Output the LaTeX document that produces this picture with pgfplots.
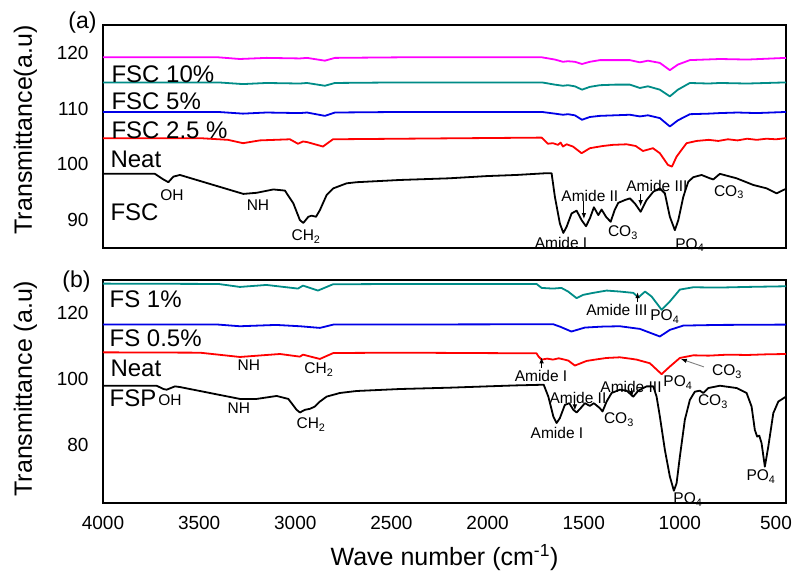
\documentclass[border=0pt]{standalone}
\usepackage{fontspec}
\setmainfont{Liberation Sans}
\usepackage{pgfplots}
\pgfplotsset{compat=1.18}
\usetikzlibrary{arrows.meta}
\definecolor{cmag}{RGB}{255,0,255}
\definecolor{cteal}{RGB}{0,140,135}
\definecolor{cblue}{RGB}{0,0,230}
\definecolor{cred}{RGB}{255,0,0}
\newcommand{\lab}{\fontsize{24}{24}\selectfont}
\newcommand{\sml}{\fontsize{15.5}{15.5}\selectfont}
\tikzset{arr/.style={line width=0.9pt, -{Latex[length=6pt,width=4.5pt]}}}
\begin{document}
\begin{tikzpicture}[x=1pt,y=1pt]
\pgfplotsset{
 common/.style={
  scale only axis, width=683pt, height=223pt,
  x dir=reverse, xmin=448, xmax=4000,
  axis line style={line width=1.9pt},
  major tick length=0pt,
  tick label style={font=\fontsize{19}{19}\selectfont},
  /pgf/number format/assume math mode=true,
  /pgf/number format/1000 sep={},
  yticklabel style={xshift=-11pt},
  xticklabel style={yshift=-10pt},
  xtick={500,1000,...,4000},
  clip=false,
  every axis plot/.append style={line width=1.8pt, mark=none, line join=round},
  every axis y label/.style={rotate=90, anchor=center, font=\fontsize{25}{25}\selectfont},
  every axis x label/.style={anchor=base, font=\fontsize{25}{25}\selectfont},
 },
}
% ---------------- panel (a)
\begin{axis}[common, at={(103pt,329pt)}, anchor=south west,
  ymin=85, ymax=125, ytick={90,100,110,120}, xticklabels={},
  ylabel={Transmittance(a.u)},
  ylabel style={at={(axis description cs:-0.1135,0.529)}}]
\addplot[black] coordinates {
(4000,98.3)(3730,98.3)(3686,97.3)(3660,96.8)(3634,97.8)(3600,98.1)(3270,94.7)(3201,94.9)(3114,95.5)(3054,95.3)(3010,93.0)(2976,90.0)(2958,89.5)(2932,90.6)(2915,90.8)(2892,90.6)(2872,91.8)(2837,94.5)(2802,95.7)(2733,96.6)(2681,96.8)(2456,97.2)(2200,97.5)(2003,97.9)(1850,98.1)(1702,98.4)(1667,98.4)(1650,94.2)(1624,89.4)(1606,87.7)(1589,88.8)(1563,91.2)(1537,91.7)(1511,90.0)(1488,88.9)(1468,90.3)(1447,92.3)(1424,90.9)(1407,91.9)(1384,90.6)(1360,89.7)(1338,91.9)(1320,93.1)(1286,93.6)(1260,93.9)(1234,93.0)(1204,91.5)(1173,93.6)(1138,95.1)(1104,95.7)(1078,94.8)(1052,90.6)(1026,88.2)(1008,90.0)(982,94.2)(956,96.9)(930,97.7)(887,98.1)(844,97.5)(826,97.3)(792,98.3)(705,97.5)(618,96.3)(549,95.7)(497,94.8)(462,95.4)(448,95.6)};
\addplot[cred] coordinates {
(4000,104.7)(3496,104.7)(3350,104.4)(3272,103.8)(3184,104.3)(3028,104.5)(2986,103.7)(2960,104.1)(2939,104.0)(2856,103.2)(2804,104.5)(2456,104.6)(1719,104.8)(1686,103.7)(1660,103.8)(1634,103.5)(1620,103.9)(1608,103.2)(1589,103.6)(1556,103.2)(1511,102.0)(1468,102.9)(1400,103.3)(1348,103.5)(1277,103.6)(1230,103.3)(1192,102.4)(1140,102.9)(1104,102.0)(1062,99.9)(1041,99.6)(1017,101.4)(965,103.8)(913,104.2)(850,104.4)(800,104.2)(750,104.5)(700,104.3)(650,104.6)(600,104.4)(550,104.6)(500,104.5)(448,104.7)};
\addplot[cblue] coordinates {
(4000,109.4)(3400,109.4)(3272,109.1)(3150,109.3)(2976,109.2)(2939,109.3)(2846,108.7)(2794,109.3)(2456,109.4)(1717,109.4)(1650,109.1)(1608,108.9)(1582,109.0)(1546,108.8)(1509,108.0)(1468,108.5)(1416,108.7)(1338,108.8)(1260,108.9)(1208,108.6)(1166,108.8)(1104,108.3)(1052,106.8)(1010,107.9)(948,109.0)(850,109.1)(792,109.2)(700,109.3)(600,109.2)(448,109.4)};
\addplot[cteal] coordinates {
(4000,114.7)(3400,114.7)(3272,114.4)(3150,114.6)(2976,114.5)(2939,114.6)(2846,114.1)(2794,114.6)(2456,114.7)(1717,114.7)(1650,114.3)(1608,114.1)(1582,114.2)(1546,114.0)(1509,113.4)(1468,113.9)(1416,114.2)(1338,114.3)(1260,114.3)(1208,113.7)(1166,114.0)(1104,113.4)(1052,112.2)(1010,113.4)(948,114.6)(850,114.5)(792,114.6)(650,114.5)(448,114.7)};
\addplot[cmag] coordinates {
(4000,119.2)(3400,119.2)(3288,118.9)(3150,119.1)(2976,119.0)(2939,119.1)(2846,118.6)(2794,119.1)(2456,119.2)(1717,119.2)(1650,118.8)(1608,118.4)(1582,118.5)(1546,118.4)(1509,118.0)(1468,118.4)(1416,118.7)(1338,118.7)(1260,118.7)(1208,118.3)(1166,118.6)(1104,118.2)(1052,116.9)(1010,117.9)(948,118.7)(792,118.9)(650,118.8)(448,119.1)};
\node[anchor=center,font=\fontsize{23}{23}\selectfont] at (axis cs:4107,125.4) {(a)};
\node[anchor=base west,font=\lab] at (axis cs:3974,114.6) {FSC 10\%};
\node[anchor=base west,font=\lab] at (axis cs:3974,109.8) {FSC 5\%};
\node[anchor=base west,font=\lab] at (axis cs:3974,104.7) {FSC 2.5 \%};
\node[anchor=base west,font=\lab] at (axis cs:3979,99.4) {Neat};
\node[anchor=base west,font=\lab] at (axis cs:3979,90.0) {FSC};
\node[font=\sml] at (axis cs:3641,94.5) {OH};
\node[font=\sml] at (axis cs:3194,92.7) {NH};
\node[font=\sml] at (axis cs:2944,87.1) {CH\textsubscript{2}};
\node[font=\sml] at (axis cs:1618,85.9) {Amide I};
\node[font=\sml] at (axis cs:1468,94.3) {Amide II};
\draw[arr] (axis cs:1499,93.4) -- (axis cs:1499,90.2);
\node[font=\sml] at (axis cs:1296,87.7) {CO\textsubscript{3}};
\node[font=\sml] at (axis cs:1119,96.1) {Amide III};
\draw[arr] (axis cs:1204,94.7) -- (axis cs:1204,92.5);
\node[font=\sml] at (axis cs:948,85.5) {PO\textsubscript{4}};
\node[font=\sml] at (axis cs:745,95.0) {CO\textsubscript{3}};
\end{axis}
% ---------------- panel (b)
\begin{axis}[common, at={(103pt,74pt)}, anchor=south west,
  ymin=62.5, ymax=130, ytick={80,100,120},
  ylabel={Transmittance (a.u)},
  ylabel style={at={(axis description cs:-0.1135,0.513)}},
  xlabel={Wave number (cm\textsuperscript{-1})},
  xlabel style={at={(axis description cs:0.5,-0.2825)}}]
\addplot[black] coordinates {
(4000,98.0)(3721,98.0)(3686,97.0)(3669,96.8)(3626,97.8)(3600,97.6)(3288,94.0)(3201,94.0)(3097,94.9)(3036,94.0)(2993,90.7)(2976,89.9)(2950,90.7)(2924,91.0)(2898,91.7)(2872,93.2)(2837,94.7)(2768,95.8)(2681,96.4)(2456,97.0)(2200,97.4)(2003,97.8)(1850,98.1)(1708,98.3)(1684,94.7)(1658,88.7)(1641,86.7)(1624,88.2)(1598,92.2)(1575,92.7)(1554,90.7)(1537,89.9)(1516,91.2)(1494,92.7)(1468,91.9)(1447,92.7)(1416,91.2)(1402,90.2)(1381,93.2)(1355,95.8)(1312,96.8)(1277,96.5)(1242,94.7)(1216,96.5)(1173,97.8)(1138,97.8)(1121,94.7)(1104,88.7)(1078,78.6)(1052,70.5)(1031,66.2)(1017,68.5)(1000,76.5)(974,87.7)(948,93.7)(922,96.2)(896,96.5)(878,95.8)(852,97.3)(792,98.0)(705,97.3)(653,95.8)(627,91.7)(610,84.6)(598,82.6)(587,82.9)(575,80.6)(558,73.5)(540,79.6)(514,89.7)(488,93.2)(448,94.7)};
\addplot[cred] coordinates {
(4000,108.1)(3496,108.0)(3288,106.7)(3080,107.6)(2976,106.8)(2960,107.4)(2872,106.1)(2802,107.9)(2456,108.0)(1745,107.8)(1736,106.9)(1719,105.9)(1690,106.2)(1660,105.9)(1630,106.3)(1607,106.0)(1580,105.6)(1546,104.1)(1485,105.5)(1430,106.0)(1381,106.4)(1312,106.6)(1260,106.2)(1225,105.9)(1156,104.8)(1095,101.5)(1052,103.8)(1000,106.4)(930,107.2)(850,107.1)(750,107.4)(650,107.3)(550,107.5)(448,107.6)};
\addplot[cblue] coordinates {
(4000,116.5)(3400,116.5)(3288,116.0)(3100,116.4)(2976,116.0)(2872,115.5)(2802,116.5)(1700,116.6)(1658,116.6)(1620,115.8)(1564,114.4)(1494,115.6)(1400,115.9)(1312,116.0)(1208,115.2)(1104,112.9)(1052,114.9)(982,116.2)(800,116.4)(448,116.5)};
\addplot[cteal] coordinates {
(4000,128.9)(3400,128.8)(3288,127.9)(3150,128.5)(2986,127.4)(2960,128.3)(2882,126.8)(2804,128.7)(2456,128.8)(1745,128.8)(1719,127.6)(1660,127.4)(1616,127.6)(1581,126.5)(1537,124.5)(1503,125.5)(1451,126.1)(1381,126.8)(1312,126.5)(1242,126.1)(1216,124.7)(1181,126.5)(1147,125.0)(1095,121.0)(1052,123.5)(1000,127.1)(930,127.8)(800,127.7)(650,127.9)(448,128.1)};
\node[anchor=center,font=\fontsize{23}{23}\selectfont] at (axis cs:4138,129.5) {(b)};
\node[anchor=base west,font=\lab] at (axis cs:3984,121.6) {FS 1\%};
\node[anchor=base west,font=\lab] at (axis cs:3984,109.9) {FS 0.5\%};
\node[anchor=base west,font=\lab] at (axis cs:3979,100.7) {Neat};
\node[anchor=base west,font=\lab] at (axis cs:3984,91.6) {FSP};
\node[font=\sml] at (axis cs:3652,93.7) {OH};
\node[font=\sml] at (axis cs:3293,91.3) {NH};
\node[font=\sml] at (axis cs:3241,104.3) {NH};
\node[font=\sml] at (axis cs:2877,102.8) {CH\textsubscript{2}};
\node[font=\sml] at (axis cs:2918,86.2) {CH\textsubscript{2}};
\node[font=\sml] at (axis cs:1327,121.0) {Amide III};
\draw[arr] (axis cs:1220,123.3) -- (axis cs:1220,126.3);
\node[font=\sml] at (axis cs:1078,118.9) {PO\textsubscript{4}};
\node[font=\sml] at (axis cs:1722,101.0) {Amide I};
\draw[arr] (axis cs:1719,103.4) -- (axis cs:1719,106.6);
\node[font=\sml] at (axis cs:1010,98.9) {PO\textsubscript{4}};
\node[font=\sml] at (axis cs:755,102.2) {CO\textsubscript{3}};
\draw[gray, line width=0.9pt, -{Latex[black,length=6pt,width=4.5pt]}] (axis cs:875,103.7) -- (axis cs:995,106.1);
\node[font=\sml] at (axis cs:1254,97.7) {Amide III};
\draw[arr] (axis cs:1251,97.4) -- (axis cs:1251,94.5);
\node[font=\sml] at (axis cs:1530,94.3) {Amide II};
\draw[arr] (axis cs:1546,93.4) -- (axis cs:1546,90.5);
\node[font=\sml] at (axis cs:1317,87.7) {CO\textsubscript{3}};
\node[font=\sml] at (axis cs:1639,83.7) {Amide I};
\node[font=\sml] at (axis cs:828,93.1) {CO\textsubscript{3}};
\node[font=\sml] at (axis cs:958,63.5) {PO\textsubscript{4}};
\node[font=\sml] at (axis cs:578,70.5) {PO\textsubscript{4}};
\end{axis}
\pgfresetboundingbox
\path[use as bounding box] (0,0) rectangle (792,577);
\end{tikzpicture}
\end{document}
